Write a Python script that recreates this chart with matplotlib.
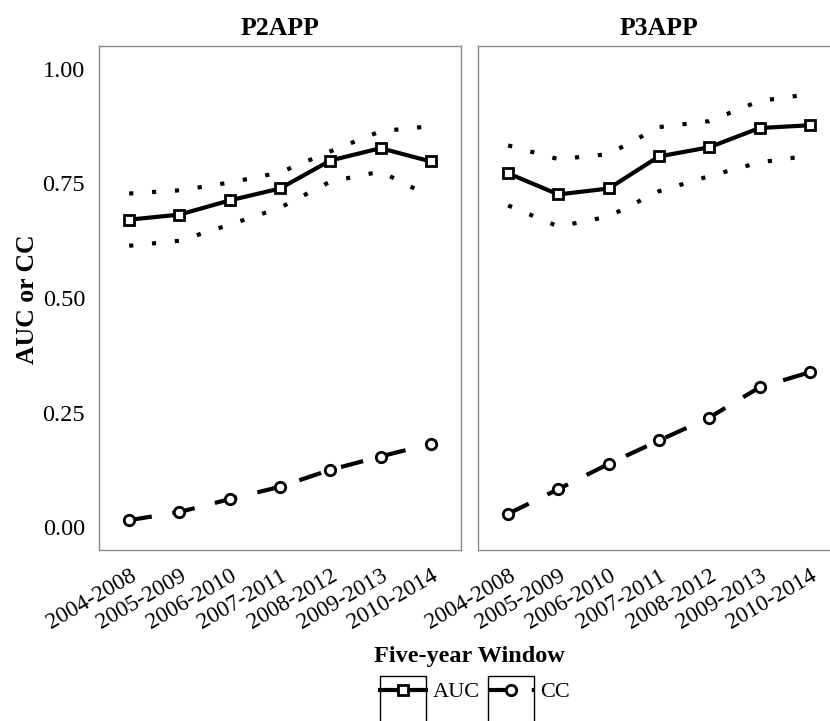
import matplotlib
matplotlib.use("Agg")
import matplotlib.pyplot as plt
from matplotlib.lines import Line2D
from matplotlib.patches import Rectangle
from matplotlib.legend_handler import HandlerLine2D

plt.rcParams["font.family"] = ["Liberation Serif", "DejaVu Serif"]

WINDOWS = ["2004-2008", "2005-2009", "2006-2010", "2007-2011",
           "2008-2012", "2009-2013", "2010-2014"]
PANELS = ["P2APP", "P3APP"]

AUC = {
    "P2APP": [0.671, 0.682, 0.713, 0.739, 0.800, 0.827, 0.798],
    "P3APP": [0.772, 0.726, 0.739, 0.809, 0.829, 0.871, 0.877],
}
AUC_HI = {
    "P2APP": [0.728, 0.735, 0.752, 0.774, 0.820, 0.864, 0.875],
    "P3APP": [0.833, 0.803, 0.814, 0.873, 0.886, 0.930, 0.945],
}
AUC_LO = {
    "P2APP": [0.614, 0.625, 0.660, 0.697, 0.754, 0.776, 0.721],
    "P3APP": [0.702, 0.656, 0.678, 0.733, 0.766, 0.796, 0.811],
}
CC = {
    "P2APP": [0.015, 0.033, 0.061, 0.088, 0.125, 0.154, 0.182],
    "P3APP": [0.029, 0.083, 0.138, 0.189, 0.239, 0.305, 0.338],
}
Y_TICKS = [0.00, 0.25, 0.50, 0.75, 1.00]

LW = 3.0
AUC_STYLE = dict(color="black", linewidth=LW, linestyle="-", marker="s",
                 markersize=7.5, markerfacecolor="white", markeredgewidth=2)
CC_STYLE = dict(color="black", linewidth=LW, linestyle=(0, (5.5, 5)), marker="o",
                markersize=7.5, markerfacecolor="white", markeredgewidth=2,
                dash_capstyle="butt")
CI_STYLE = dict(color="black", linewidth=LW, linestyle=(0, (1, 4.5)),
                dash_capstyle="butt")


class BoxedLine(HandlerLine2D):
    """Legend key inside a tall black box (ggplot legend.key border, cut off by the page)."""
    def create_artists(self, legend, orig_handle, xdescent, ydescent,
                       width, height, fontsize, trans):
        artists = super().create_artists(legend, orig_handle, xdescent, ydescent,
                                         width, height, fontsize, trans)
        mid = height / 2 - ydescent
        box = Rectangle((-xdescent, mid - 35), width, 45, fill=False,
                        edgecolor="black", linewidth=1.0, transform=trans)
        return [box] + list(artists)


W, H = 830, 721
fig = plt.figure(figsize=(W / 100, H / 100), dpi=100)
ax_w, ax_h, ax_b = 362 / W, 504 / H, 1 - 550 / H
lefts = [99 / W, 478 / W]

x = list(range(len(WINDOWS)))
for i, (panel, left) in enumerate(zip(PANELS, lefts)):
    ax = fig.add_axes([left, ax_b, ax_w, ax_h])
    ax.plot(x, AUC_HI[panel], **CI_STYLE)
    ax.plot(x, AUC_LO[panel], **CI_STYLE)
    ax.plot(x, CC[panel], **CC_STYLE)
    ax.plot(x, AUC[panel], **AUC_STYLE)
    ax.set_xlim(-0.6, len(WINDOWS) - 0.4)
    ax.set_ylim(-0.05, 1.05)
    ax.set_xticks(x)
    ax.set_xticklabels(WINDOWS, rotation=30, ha="right", va="top",
                       rotation_mode="anchor", fontsize=16.7)
    ax.tick_params(axis="x", length=0, pad=11)
    ax.set_yticks(Y_TICKS)
    ax.tick_params(axis="y", length=0, pad=10)
    if i == 0:
        ax.set_yticklabels([f"{v:.2f}" for v in Y_TICKS], fontsize=17.5)
    else:
        ax.set_yticklabels([])
    for sp in ax.spines.values():
        sp.set_color("#8a8a8a")
        sp.set_linewidth(1.0)
    ax.set_title(panel, fontsize=18.5, fontweight="bold", pad=8)

fig.text(27 / W, 1 - 299 / H, "AUC or CC", rotation=90, ha="center", va="center",
         fontsize=18.5, fontweight="bold")
fig.text(469 / W, 1 - 662 / H, "Five-year Window", ha="center", va="baseline",
         fontsize=17.5, fontweight="bold")

handles = [Line2D([], [], **AUC_STYLE), Line2D([], [], **CC_STYLE)]
fig.legend(handles, ["AUC", "CC"], loc="center", bbox_to_anchor=(475 / W, 1 - 692 / H),
           ncol=2, frameon=False, fontsize=16, handlelength=2.07,
           handletextpad=0.28, columnspacing=0.35, borderpad=0,
           handler_map={Line2D: BoxedLine()})

fig.savefig("out.png", dpi=100)
